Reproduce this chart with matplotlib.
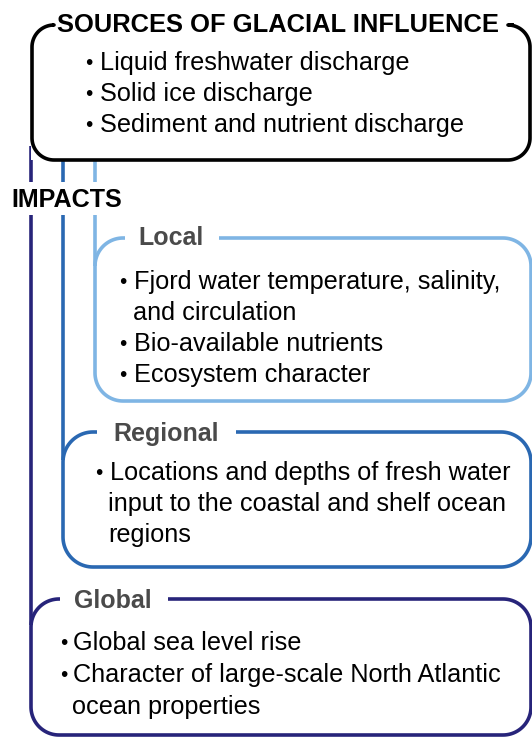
import numpy as np
import matplotlib
matplotlib.use("Agg")
import matplotlib.pyplot as plt

plt.rcParams['font.family'] = ['Liberation Sans', 'DejaVu Sans']

# ---- content ----
title = "SOURCES OF GLACIAL INFLUENCE"
source_items = ["Liquid freshwater discharge", "Solid ice discharge", "Sediment and nutrient discharge"]
impacts_label = "IMPACTS"
local_label = "Local"
local_items = [["Fjord water temperature, salinity,", "and circulation"],
               ["Bio-available nutrients"],
               ["Ecosystem character"]]
regional_label = "Regional"
regional_items = [["Locations and depths of fresh water",
                   "input to the coastal and shelf ocean", "regions"]]
global_label = "Global"
global_items = [["Global sea level rise"],
                ["Character of large-scale North Atlantic", "ocean properties"]]

# ---- styles ----
C_BLACK = "#000000"
C_LIGHT = "#7fb5e4"
C_MID = "#2a68b2"
C_NAVY = "#27247a"
C_LABEL = "#4a4a4a"
LW = 2.6
BODY_FS = 18.2
BULLET_FS = 15
TITLE_FS = 18.4
IMPACT_FS = 18.1
LABEL_FS = 18

fig = plt.figure(figsize=(5.32, 7.37), dpi=100)
ax = fig.add_axes([0, 0, 1, 1])
ax.set_xlim(0, 532)
ax.set_ylim(737, 0)
ax.axis('off')


def box_path(x0, y0, x1, y1, r, g0, g1, n=24):
    pts = [(g1, y0)]
    def arc(cx, cy, a0, a1):
        t = np.radians(np.linspace(a0, a1, n))
        return list(zip(cx + r * np.cos(t), cy + r * np.sin(t)))
    pts += arc(x1 - r, y0 + r, -90, 0)
    pts += arc(x1 - r, y1 - r, 0, 90)
    pts += arc(x0 + r, y1 - r, 90, 180)
    pts += arc(x0 + r, y0 + r, 180, 270)
    pts.append((g0, y0))
    p = np.array(pts)
    return p[:, 0], p[:, 1]


def draw_box(x0, y0, x1, y1, r, g0, g1, color, z=3):
    xs, ys = box_path(x0, y0, x1, y1, r, g0, g1)
    ax.plot(xs, ys, color=color, lw=LW, solid_capstyle='butt',
            solid_joinstyle='round', zorder=z)


def bullets(items, bx, tx, tx2, y_start, dy):
    y = y_start
    for item in items:
        ax.text(bx, y - 1, "\u2022", fontsize=BULLET_FS, ha='left', va='baseline', color='black', zorder=5)
        for k, line in enumerate(item):
            ax.text(tx if k == 0 else tx2, y, line, fontsize=BODY_FS, ha='left',
                    va='baseline', color='black', zorder=5)
            y += dy

# vertical connectors
ax.plot([31, 31], [146, 625], color=C_NAVY, lw=LW, solid_capstyle='butt', zorder=2)
ax.plot([63, 63], [160, 460], color=C_MID, lw=LW, solid_capstyle='butt', zorder=2)
ax.plot([95, 95], [160, 266], color=C_LIGHT, lw=LW, solid_capstyle='butt', zorder=2)

# IMPACTS gap + label
ax.fill_between([0, 135], 182, 215, color='white', zorder=4, lw=0)
ax.text(11, 207, impacts_label, fontsize=IMPACT_FS, fontweight='bold', ha='left',
        va='baseline', color='black', zorder=5)

# sources box
ax.fill_between([31, 531], 25, 160, color='white', zorder=2.5, lw=0)
draw_box(32, 25, 530, 160, 22, 52, 514, C_BLACK, z=3)
ax.text(57, 32, title, fontsize=TITLE_FS, fontweight='bold', ha='left',
        va='baseline', color='black', zorder=5)
bullets([[s] for s in source_items], 85, 100, 100, 70, 31)

# local box
draw_box(95, 238, 531, 401, 28, 125, 219, C_LIGHT)
ax.text(138, 245, local_label, fontsize=LABEL_FS, fontweight='bold', ha='left',
        va='baseline', color=C_LABEL, zorder=5)
bullets(local_items, 119, 134, 133, 289, 31)

# regional box
draw_box(63, 432, 531, 567, 30, 97, 236, C_MID)
ax.text(113, 441, regional_label, fontsize=LABEL_FS, fontweight='bold', ha='left',
        va='baseline', color=C_LABEL, zorder=5)
bullets(regional_items, 95, 110, 108, 480, 31)

# global box
draw_box(31, 599, 531, 735, 28, 60, 168, C_NAVY)
ax.text(74, 608, global_label, fontsize=LABEL_FS, fontweight='bold', ha='left',
        va='baseline', color=C_LABEL, zorder=5)
bullets(global_items, 60, 73, 72, 650, 32)

fig.savefig("out.png", dpi=100)
